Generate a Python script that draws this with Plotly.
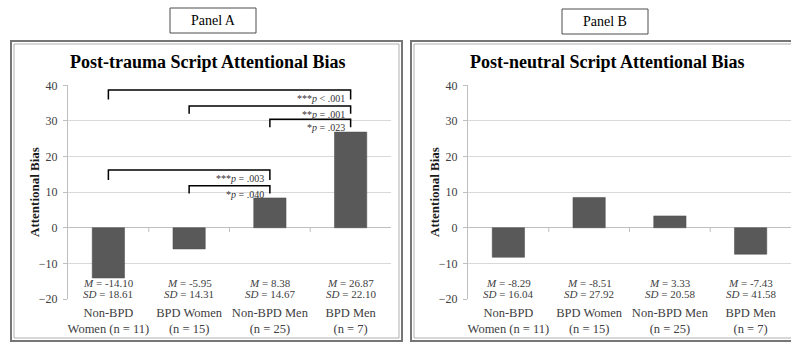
import plotly.graph_objects as go

W, H = 791, 343

categories = ["Non-BPD<br>Women (n = 11)", "BPD Women<br>(n = 15)", "Non-BPD Men<br>(n = 25)", "BPD Men<br>(n = 7)"]

# Panel A: post-trauma script
trauma_bars = [-14.10, -5.95, 8.38, 26.87]
trauma_mean_text = ["-14.10", "-5.95", "8.38", "26.87"]
trauma_sd_text = ["18.61", "14.31", "14.67", "22.10"]

# Panel B: post-neutral script (bar heights as drawn in the figure)
neutral_bars = [-8.29, 8.51, 3.33, -7.43]
neutral_mean_text = ["-8.29", "-8.51", "3.33", "-7.43"]
neutral_sd_text = ["16.04", "27.92", "20.58", "41.58"]

# Significance brackets for panel A: (from category, to category, bracket top level, leg bottom level, label)
brackets = [
    (0, 3, 38.7, 36.0, "***<i>p</i> < .001"),
    (1, 3, 34.2, 32.0, "**<i>p</i> = .001"),
    (2, 3, 30.5, 28.2, "*<i>p</i> = .023"),
    (0, 2, 16.2, 13.4, "***<i>p</i> = .003"),
    (1, 2, 11.8, 9.6, "*<i>p</i> = .040"),
]

titles = ["Post-trauma Script Attentional Bias", "Post-neutral Script Attentional Bias"]
panel_labels = ["Panel A", "Panel B"]

FONT = "Liberation Serif, Times New Roman, serif"
BAR_COLOR = "#595959"
GRID = "#d9d9d9"
AXIS = "#bfbfbf"
TXT = "#404040"

def px(x):
    return x / W

def py(y):
    return 1 - y / H

fig = go.Figure()

panels = [
    dict(xa="x", ya="y", bars=trauma_bars, m=trauma_mean_text, sd=trauma_sd_text, x0=68, x1=391),
    dict(xa="x2", ya="y2", bars=neutral_bars, m=neutral_mean_text, sd=neutral_sd_text, x0=468, x1=791),
]

for p in panels:
    fig.add_trace(go.Bar(
        x=categories, y=p["bars"], xaxis=p["xa"], yaxis=p["ya"],
        width=0.4, marker=dict(color=BAR_COLOR, line=dict(color="#4a4a4a", width=0.5)),
        showlegend=False, hoverinfo="skip",
    ))

ydom = [py(299), py(85.3)]
axis_common_y = dict(
    range=[-20, 40], dtick=10, showgrid=True, gridcolor=GRID, gridwidth=1,
    showline=True, linecolor=AXIS, linewidth=1, ticks="outside", ticklen=4, tickcolor=AXIS,
    tickfont=dict(family=FONT, size=12, color=TXT), zeroline=True, zerolinecolor=AXIS,
    zerolinewidth=1, domain=ydom, fixedrange=True, automargin=False, ticklabelstandoff=3,
)
axis_common_x = dict(
    type="category", range=[-0.5, 3.5], showgrid=False, showline=False, ticks="",
    tickfont=dict(family=FONT, size=12.5, color=TXT), fixedrange=True, ticklabelstandoff=4,
    automargin=False,
)

fig.update_layout(
    width=W, height=H, margin=dict(l=0, r=0, t=0, b=0, autoexpand=False),
    paper_bgcolor="white", plot_bgcolor="white", bargap=0.6,
    xaxis=dict(domain=[px(68), px(391)], anchor="y", **axis_common_x),
    yaxis=dict(anchor="x", **axis_common_y),
    xaxis2=dict(domain=[px(468), px(791)], anchor="y2", **axis_common_x),
    yaxis2=dict(anchor="x2", **axis_common_y),
)

shapes = []
annotations = []

for k, p in enumerate(panels):
    # small category tick marks on the zero line
    for b in [0.5, 1.5, 2.5]:
        shapes.append(dict(type="line", xref=p["xa"], yref=p["ya"], x0=b, x1=b, y0=0, y1=-1.2,
                           line=dict(color=AXIS, width=1)))
    # mean / SD text
    for i, c in enumerate(categories):
        annotations.append(dict(
            x=c, y=-20, xref=p["xa"], yref=p["ya"], xanchor="center", yanchor="bottom", yshift=-3,
            text=f"<i>SD</i> = {p['sd'][i]}", showarrow=False,
            font=dict(family=FONT, size=11, color=TXT), align="center",
        ))
        annotations.append(dict(
            x=c, y=-20, xref=p["xa"], yref=p["ya"], xanchor="center", yanchor="bottom", yshift=8,
            text=f"<i>M</i> = {p['m'][i]}", showarrow=False,
            font=dict(family=FONT, size=11, color=TXT), align="center",
        ))
    # y-axis title
    annotations.append(dict(
        x=px(p["x0"] - 34), y=py(192), xref="paper", yref="paper", textangle=-90,
        text="<b>Attentional Bias</b>", showarrow=False,
        font=dict(family=FONT, size=13, color="#1a1a1a"), xanchor="center", yanchor="middle",
    ))

# chart titles and panel frames
title_cx = [207, 607]
frame_x = [(11, 402), (411, 800)]
label_box = [(170, 256, 8, 33), (562, 648, 9, 34)]
for k in range(2):
    annotations.append(dict(
        x=px(title_cx[k]), y=py(62), xref="paper", yref="paper", text=f"<b>{titles[k]}</b>",
        showarrow=False, font=dict(family=FONT, size=18, color="black"),
        xanchor="center", yanchor="middle",
    ))
    fx0, fx1 = frame_x[k]
    shapes.append(dict(type="rect", xref="paper", yref="paper", x0=px(fx0), x1=px(fx1),
                       y0=py(341), y1=py(41), line=dict(color="#767676", width=2)))
    shapes.append(dict(type="rect", xref="paper", yref="paper", x0=px(fx0 + 3), x1=px(fx1 - 3),
                       y0=py(338), y1=py(44), line=dict(color="#b0b0b0", width=1)))
    bx0, bx1, by0, by1 = label_box[k]
    shapes.append(dict(type="rect", xref="paper", yref="paper", x0=px(bx0), x1=px(bx1),
                       y0=py(by1), y1=py(by0), line=dict(color="#4d4d4d", width=1)))
    annotations.append(dict(
        x=px((bx0 + bx1) / 2), y=py((by0 + by1) / 2), xref="paper", yref="paper",
        text=panel_labels[k], showarrow=False, font=dict(family=FONT, size=14, color="black"),
        xanchor="center", yanchor="middle",
    ))

# significance brackets (panel A)
for (i, j, top, leg, label) in brackets:
    shapes.append(dict(
        type="path", xref="x", yref="y",
        path=f"M {i},{leg} L {i},{top} L {j},{top} L {j},{leg}",
        line=dict(color="black", width=1.5),
    ))
    annotations.append(dict(
        x=j, y=top, xref="x", yref="y", xanchor="right", yanchor="top", xshift=-4, yshift=-1,
        text=label, showarrow=False, font=dict(family=FONT, size=10, color="#333333"),
    ))

fig.update_layout(shapes=shapes, annotations=annotations)
fig.write_html(
    "out.html",
    config={"displayModeBar": False, "staticPlot": True},
    post_script="document.body.style.margin='0';document.body.style.overflow='hidden';",
)
